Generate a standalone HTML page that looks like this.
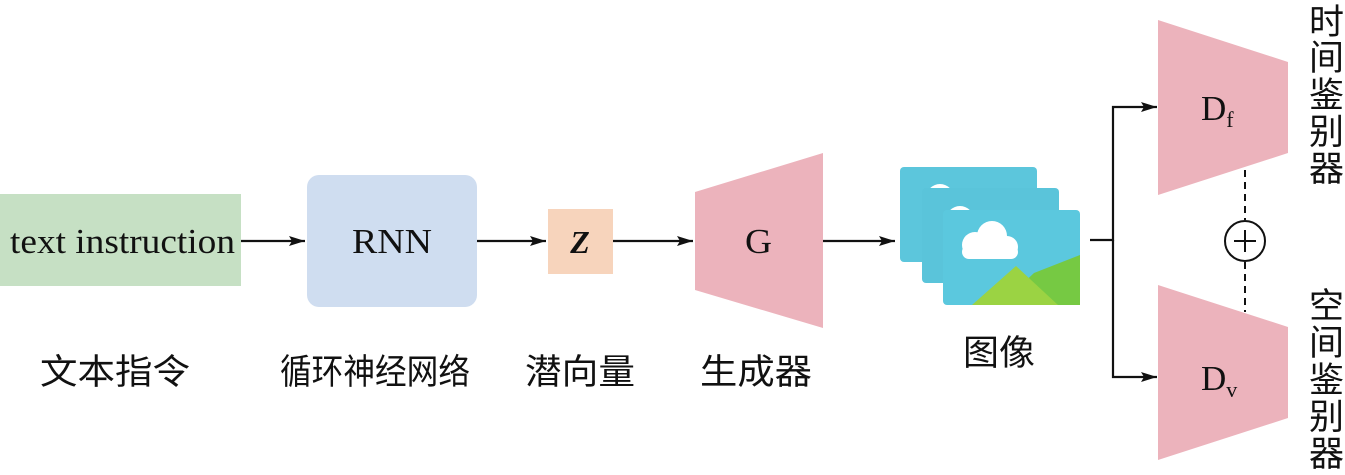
<!DOCTYPE html>
<html><head><meta charset="utf-8"><style>
body{margin:0;background:#fff;}
svg{display:block}
.t{font-family:"Liberation Serif","Noto Serif CJK SC",serif;fill:#111}
.c{font-family:"Noto Sans CJK SC","WenQuanYi Zen Hei",sans-serif;fill:#111;font-size:35px}
</style></head><body>
<svg width="1345" height="475" viewBox="0 0 1345 475" xmlns="http://www.w3.org/2000/svg">
<defs><marker id="a" markerWidth="16" markerHeight="10" refX="16" refY="5" orient="auto" markerUnits="userSpaceOnUse"><path d="M0,0 L16,5 L0,10 L3,5 Z" fill="#111"/></marker></defs>
<rect x="0" y="194" width="241" height="92" fill="#c6e0c4"/>
<text class="t" x="10" y="253" font-size="35" textLength="225" lengthAdjust="spacingAndGlyphs">text instruction</text>
<rect x="307" y="175" width="170" height="132" rx="12" fill="#cfddf0"/>
<text class="t" x="352" y="253" font-size="35" textLength="80" lengthAdjust="spacingAndGlyphs">RNN</text>
<rect x="548" y="209" width="65" height="65" fill="#f7d4bc"/>
<text class="t" x="580" y="253" font-size="32" font-weight="bold" font-style="italic" text-anchor="middle">Z</text>
<polygon points="695,192 823,153 823,328 695,290" fill="#ecb3bc"/>
<text class="t" x="745" y="253" font-size="35" textLength="27" lengthAdjust="spacingAndGlyphs">G</text>
<g stroke="#111" stroke-width="2.2" fill="none">
<line x1="241" y1="241" x2="305" y2="241" marker-end="url(#a)"/>
<line x1="477" y1="241" x2="546" y2="241" marker-end="url(#a)"/>
<line x1="613" y1="241" x2="693" y2="241" marker-end="url(#a)"/>
<line x1="823" y1="241" x2="895" y2="241" marker-end="url(#a)"/>
<polyline points="1090,240 1113,240 1113,107 1157,107" marker-end="url(#a)"/>
<polyline points="1113,240 1113,377 1157,377" marker-end="url(#a)"/>
</g>
<g>
<rect x="900" y="167" width="137" height="95" rx="4" fill="#5cc6dc"/>
<circle cx="940" cy="198" r="14" fill="#fff"/>
<rect x="922" y="188" width="137" height="95" rx="4" fill="#5ac4da"/>
<circle cx="960" cy="220" r="14" fill="#fff"/>
<rect x="943" y="210" width="137" height="95" rx="4" fill="#5bc8de"/>
<g fill="#fff"><circle cx="975" cy="245" r="13"/><circle cx="992" cy="236" r="15"/><circle cx="1007" cy="247" r="11"/><rect x="962" y="245" width="56" height="14" rx="7"/></g>
<polygon points="1034,273 1080,255 1080,305 1000,305" fill="#76c943"/>
<polygon points="972,305 1016,266 1058,305" fill="#9bd343"/>
</g>
<polygon points="1158,20 1288,62 1288,153 1158,195" fill="#ecb3bc"/>
<polygon points="1158,285 1288,327 1288,418 1158,460" fill="#ecb3bc"/>
<text class="t" x="1201" y="120" font-size="35">D<tspan font-size="22" dy="7">f</tspan></text>
<text class="t" x="1201" y="390" font-size="35">D<tspan font-size="22" dy="7">v</tspan></text>
<g stroke="#111" stroke-width="2" fill="none">
<line x1="1245" y1="170" x2="1245" y2="220" stroke-dasharray="7,5"/>
<line x1="1245" y1="262" x2="1245" y2="312" stroke-dasharray="7,5"/>
<circle cx="1245" cy="241" r="20"/>
<line x1="1234" y1="241" x2="1256" y2="241"/>
<line x1="1245" y1="230" x2="1245" y2="252"/>
</g>
<text class="c" x="40" y="384" textLength="150" lengthAdjust="spacingAndGlyphs">文本指令</text>
<text class="c" x="280" y="384" textLength="190" lengthAdjust="spacingAndGlyphs">循环神经网络</text>
<text class="c" x="525" y="384" textLength="110" lengthAdjust="spacingAndGlyphs">潜向量</text>
<text class="c" x="700" y="384" textLength="112" lengthAdjust="spacingAndGlyphs">生成器</text>
<text class="c" x="963" y="365" textLength="72" lengthAdjust="spacingAndGlyphs">图像</text>
<g class="c">
<text x="1309" y="34">时</text><text x="1309" y="70">间</text><text x="1309" y="107">鉴</text><text x="1309" y="144">别</text><text x="1309" y="181">器</text>
<text x="1309" y="318">空</text><text x="1309" y="355">间</text><text x="1309" y="392">鉴</text><text x="1309" y="429">别</text><text x="1309" y="466">器</text>
</g>
</svg>
</body></html>
